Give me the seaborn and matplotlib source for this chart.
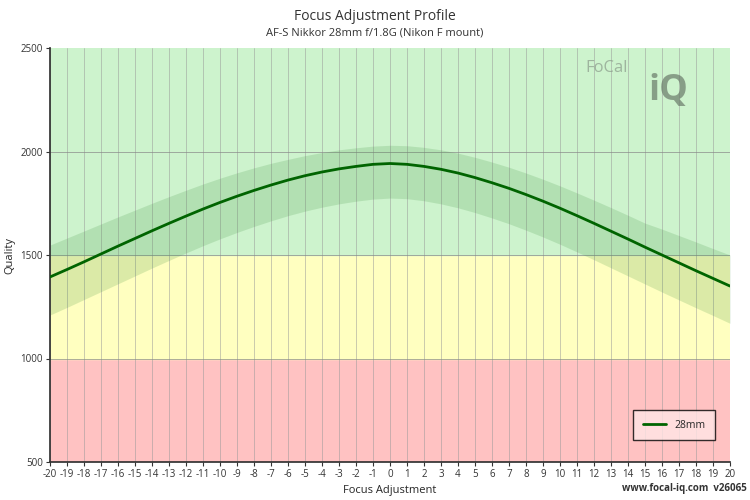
import matplotlib
matplotlib.use("Agg")
import matplotlib.pyplot as plt
import seaborn as sns
import pandas as pd

focus = list(range(-20, 21))
quality = [1394,1430,1467,1505,1543,1580,1617,1653,1688,1722,1754,1784,1812,1838,1862,1883,1901,1916,1928,1938,1942,
           1938,1928,1914,1896,1874,1849,1822,1792,1760,1726,1690,1653,1615,1577,1538,1500,1462,1424,1387,1350]
upper = [1548,1582,1616,1650,1684,1717,1750,1782,1813,1843,1871,1897,1921,1943,1962,1980,1995,2008,2018,2026,2030,
         2028,2020,2008,1992,1972,1949,1924,1896,1866,1834,1800,1765,1729,1692,1654,1625,1594,1563,1531,1500]
lower = [1210,1247,1285,1323,1361,1399,1437,1474,1510,1545,1578,1609,1638,1665,1690,1712,1731,1747,1760,1770,1775,
         1772,1762,1747,1728,1705,1679,1651,1620,1587,1552,1515,1477,1438,1399,1360,1321,1283,1245,1208,1170]
series_name = "28mm"
y_ticks = [500, 1000, 1500, 2000, 2500]

sns.set_theme(style="white")
plt.rcParams['font.family'] = ['Open Sans', 'DejaVu Sans']

fig = plt.figure(figsize=(7.5, 5), dpi=100)
ax = fig.add_axes([0.0667, 0.076, 0.9066, 0.828])

ax.axhspan(500, 1000, color="#ffc2c2", zorder=0)
ax.axhspan(1000, 1500, color="#ffffc0", zorder=0)
ax.axhspan(1500, 2500, color="#cdf3cd", zorder=0)
for x in focus:
    ax.axvline(x, color="#999999", lw=0.6, alpha=0.6, zorder=1)
for y in [1000, 1500, 2000]:
    ax.axhline(y, color="#888888", lw=0.7, alpha=0.7, zorder=1)

ax.fill_between(focus, lower, upper, color="#3a8f3a", alpha=0.18, lw=0, zorder=2)
df = pd.DataFrame({"Focus Adjustment": focus, "Quality": quality})
sns.lineplot(data=df, x="Focus Adjustment", y="Quality", color="#006400", lw=2, ax=ax, label=series_name, zorder=3)

ax.set_xlim(-20, 20)
ax.set_ylim(500, 2500)
ax.set_xticks(focus)
ax.set_xticklabels([str(v) for v in focus], fontsize=7, color="#333333")
ax.set_yticks(y_ticks)
ax.set_yticklabels([str(v) for v in y_ticks], fontsize=7, color="#333333")
ax.tick_params(axis="both", length=3, width=0.8, color="#333333", bottom=True, left=True, pad=2)
ax.set_xlabel("Focus Adjustment", fontsize=8, labelpad=4)
ax.set_ylabel("Quality", fontsize=8, labelpad=4)
for s in ["top", "right"]:
    ax.spines[s].set_visible(False)
ax.spines["left"].set_color("#333333")
ax.spines["bottom"].set_color("#333333")

leg = ax.legend(loc="lower right", bbox_to_anchor=(0.985, 0.04), fontsize=7.5, frameon=True,
                fancybox=False, edgecolor="black", facecolor="#ffe6e6", handlelength=2.2, borderpad=0.9)
leg.get_frame().set_linewidth(1)

fig.text(0.5, 0.968, "Focus Adjustment Profile", ha="center", va="center", fontsize=10, color="#333333")
fig.text(0.5, 0.934, "AF-S Nikkor 28mm f/1.8G (Nikon F mount)", ha="center", va="center", fontsize=8, color="#333333")
fig.text(0.995, 0.012, "www.focal-iq.com  v26065", ha="right", va="bottom", fontsize=7, weight="bold", color="#333333")
fig.text(0.78, 0.855, "FoCal", fontsize=12, color="#8a9a8a", alpha=0.7)
fig.text(0.865, 0.80, "iQ", fontsize=26, color="#6a7a6a", alpha=0.7, weight="bold")

fig.savefig("out.png", dpi=100)
